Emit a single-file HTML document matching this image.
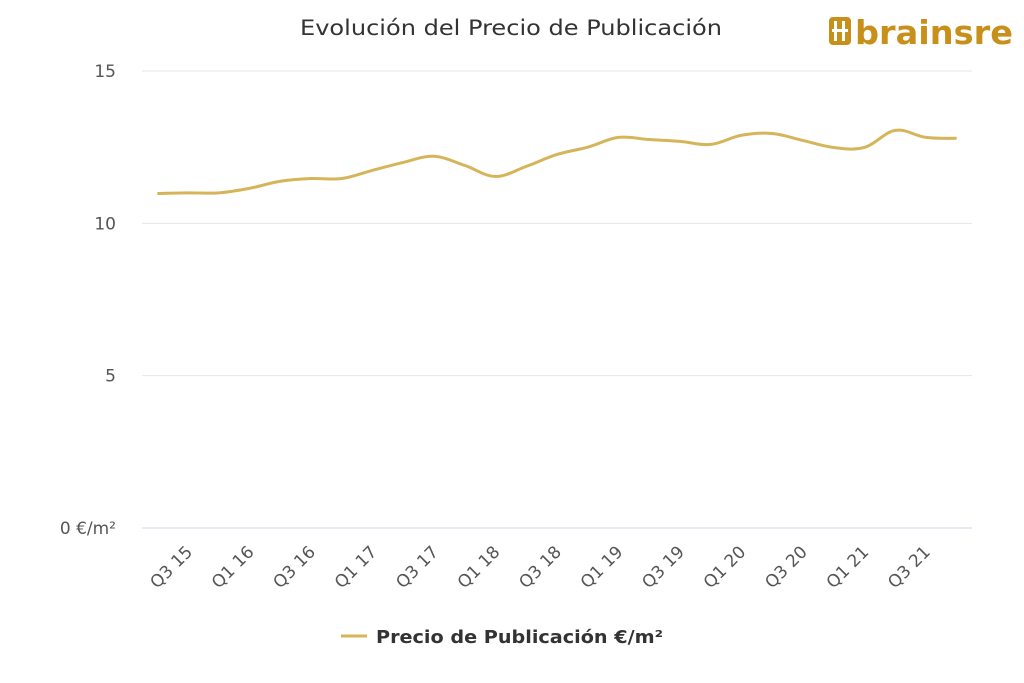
<!DOCTYPE html>
<html><head><meta charset="utf-8"><style>
body{margin:0;background:#fff;}
svg{display:block;font-family:"DejaVu Sans","Liberation Sans",sans-serif;}
</style></head><body>
<svg id="chart" width="1024" height="683">
<text x="300" y="35" font-size="21" fill="#333" textLength="422" lengthAdjust="spacingAndGlyphs">Evolución del Precio de Publicación</text>
<g>
<rect x="829" y="17" width="22" height="28" rx="4" fill="#c8901a"/>
<rect x="834" y="21" width="3" height="20" fill="#fff"/><rect x="842" y="21" width="3" height="20" fill="#fff"/>
<rect x="832" y="29" width="16" height="3" fill="#fff"/>
<text x="855" y="44" font-size="33" font-weight="bold" fill="#c8901a" textLength="158" lengthAdjust="spacingAndGlyphs">brainsre</text>
</g>
<g id="grid"></g><g id="xlabels"></g>
<path id="line" fill="none" stroke="#d6b55a" stroke-width="3"/>
<g>
<line x1="341" y1="636" x2="367" y2="636" stroke="#d6b55a" stroke-width="3"/>
<text x="376" y="643" font-size="18" font-weight="bold" fill="#333" textLength="287" lengthAdjust="spacingAndGlyphs">Precio de Publicación €/m²</text>
</g>
</svg>
<script>
const categories=["Q3 15","Q4 15","Q1 16","Q2 16","Q3 16","Q4 16","Q1 17","Q2 17","Q3 17","Q4 17","Q1 18","Q2 18","Q3 18","Q4 18","Q1 19","Q2 19","Q3 19","Q4 19","Q1 20","Q2 20","Q3 20","Q4 20","Q1 21","Q2 21","Q3 21","Q4 21","Q1 22"];
const values=[10.98,11.0,11.0,11.15,11.38,11.47,11.47,11.74,12.0,12.2,11.9,11.54,11.87,12.26,12.5,12.82,12.75,12.69,12.59,12.89,12.95,12.72,12.49,12.49,13.05,12.82,12.79];
const yTicks=[0,5,10,15];
const yTickLabels=["0 €/m²","5","10","15"];
const L=142,R=972,T=71,B=528,yMax=15;
const ns="http://www.w3.org/2000/svg";
const band=(R-L)/categories.length;
const xs=i=>L+band*(i+0.5);
const ys=v=>B-(v/yMax)*(B-T);
const grid=document.getElementById('grid');
yTicks.forEach((t,i)=>{
 const l=document.createElementNS(ns,'line');
 l.setAttribute('x1',L);l.setAttribute('x2',R);l.setAttribute('y1',ys(t));l.setAttribute('y2',ys(t));
 l.setAttribute('stroke',t===0?'#ccd6eb':'#e6e6e6');l.setAttribute('stroke-width',1);
 
 
 grid.appendChild(l);
 const tx=document.createElementNS(ns,'text');
 tx.setAttribute('x',116);tx.setAttribute('y',ys(t)+6);tx.setAttribute('text-anchor','end');
 tx.setAttribute('font-size','17');tx.setAttribute('fill','#555');tx.textContent=yTickLabels[i];
 
 
 grid.appendChild(tx);
});
const xl=document.getElementById('xlabels');
categories.forEach((c,i)=>{
 if(i%2||i===categories.length-1) return;
 const x=xs(i)+36,y=553;
 const tx=document.createElementNS(ns,'text');
 tx.setAttribute('x',x);tx.setAttribute('y',y);tx.setAttribute('text-anchor','end');
 tx.setAttribute('font-size','17');tx.setAttribute('fill','#555');
 tx.setAttribute('transform','rotate(-45 '+x+' '+y+')');
 tx.textContent=c;
 
 
 xl.appendChild(tx);
});
const pts=values.map((v,i)=>[xs(i),ys(v)]);
let d='M'+pts[0][0]+','+pts[0][1];
for(let i=0;i<pts.length-1;i++){
 const p0=pts[Math.max(0,i-1)],p1=pts[i],p2=pts[i+1],p3=pts[Math.min(pts.length-1,i+2)];
 const k=0.18;
 d+=' C'+(p1[0]+(p2[0]-p0[0])*k)+','+(p1[1]+(p2[1]-p0[1])*k)+' '+(p2[0]-(p3[0]-p1[0])*k)+','+(p2[1]-(p3[1]-p1[1])*k)+' '+p2[0]+','+p2[1];
}
document.getElementById('line').setAttribute('d',d);
</script>
</body></html>
